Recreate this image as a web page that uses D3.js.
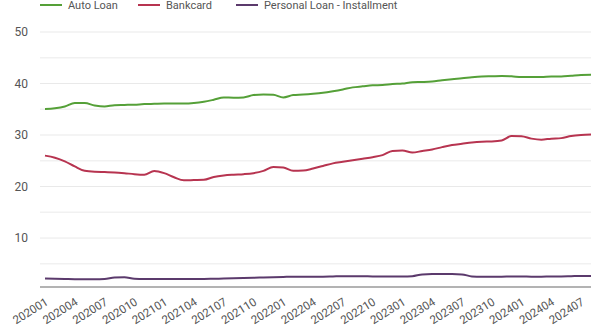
<!DOCTYPE html>
<html>
<head>
<meta charset="utf-8">
<script src="https://cdn.jsdelivr.net/npm/d3@7"></script>
<style>
  html, body { margin: 0; padding: 0; background: #fff; }
  svg { display: block; font-family: Roboto, "Liberation Sans", Arial, sans-serif; }
</style>
</head>
<body>
<svg id="chart" width="591" height="331"></svg>
<script>
// Months 202001 .. 202408
const months = [];
for (let y = 2020; y <= 2024; y++) {
  for (let m = 1; m <= 12; m++) {
    if (y === 2024 && m > 8) break;
    months.push(`${y}${String(m).padStart(2, "0")}`);
  }
}

const seriesNames = ["Auto Loan", "Bankcard", "Personal Loan - Installment"];

const autoLoan = [
  35.05, 35.2, 35.55, 36.2, 36.2, 35.75, 35.55, 35.8, 35.85, 35.9, 36.0, 36.05,
  36.1, 36.1, 36.1, 36.2, 36.45, 36.85, 37.3, 37.25, 37.3, 37.75, 37.85, 37.8,
  37.3, 37.75, 37.85, 38.0, 38.2, 38.5, 38.85, 39.25, 39.45, 39.65, 39.7, 39.9,
  40.0, 40.25, 40.3, 40.4, 40.65, 40.85, 41.0, 41.2, 41.35, 41.4, 41.45, 41.4,
  41.25, 41.25, 41.25, 41.35, 41.35, 41.5, 41.65, 41.7
];

const bankcard = [
  26.0, 25.6, 24.9, 23.9, 23.05, 22.85, 22.8, 22.75, 22.6, 22.4, 22.3, 23.0,
  22.6, 21.8, 21.2, 21.25, 21.3, 21.85, 22.15, 22.3, 22.4, 22.6, 23.05, 23.8,
  23.7, 23.05, 23.1, 23.5, 24.0, 24.5, 24.8, 25.1, 25.4, 25.7, 26.1, 26.9,
  27.0, 26.6, 26.9, 27.2, 27.65, 28.05, 28.3, 28.55, 28.7, 28.75, 28.95, 29.8,
  29.75, 29.3, 29.1, 29.3, 29.4, 29.8, 30.0, 30.1
];

const personalLoan = [
  2.15, 2.1, 2.05, 2.0, 2.0, 2.0, 2.05, 2.35, 2.4, 2.1, 2.05, 2.05,
  2.05, 2.05, 2.05, 2.05, 2.05, 2.1, 2.15, 2.2, 2.25, 2.3, 2.35, 2.4,
  2.45, 2.5, 2.5, 2.5, 2.5, 2.55, 2.6, 2.6, 2.6, 2.55, 2.55, 2.55,
  2.55, 2.6, 2.95, 3.0, 3.0, 3.0, 2.95, 2.55, 2.5, 2.5, 2.5, 2.55,
  2.55, 2.5, 2.5, 2.55, 2.55, 2.6, 2.65, 2.65
];

const yTicks = [10, 20, 30, 40, 50];
const yMinorTicks = [5, 15, 25, 35, 45];
const colors = ["#55a038", "#b73450", "#5b3a6c"];

const svg = d3.select("#chart");
const plotLeft = 40, plotRight = 591, plotTop = 32, plotBottom = 287;

const x = d3.scalePoint().domain(months).range([45, 591]);
const y = d3.scaleLinear().domain([0.5, 50]).range([plotBottom, plotTop]);

// Gridlines
svg.append("g").selectAll("line.minor").data(yMinorTicks).join("line")
  .attr("x1", plotLeft).attr("x2", plotRight)
  .attr("y1", d => y(d)).attr("y2", d => y(d))
  .attr("stroke", "#f1f1f1").attr("stroke-width", 1.5);
svg.append("g").selectAll("line.major").data(yTicks).join("line")
  .attr("x1", plotLeft).attr("x2", plotRight)
  .attr("y1", d => y(d)).attr("y2", d => y(d))
  .attr("stroke", "#e9e9e9").attr("stroke-width", 1);

// Y axis labels
svg.append("g").selectAll("text").data(yTicks).join("text")
  .attr("x", 28).attr("y", d => y(d)).attr("dy", "0.35em")
  .attr("text-anchor", "end").attr("font-size", 12).attr("fill", "#555")
  .text(d => d);

// X axis baseline and labels
svg.append("line")
  .attr("x1", plotLeft).attr("x2", plotRight)
  .attr("y1", plotBottom).attr("y2", plotBottom)
  .attr("stroke", "#9a9a9a").attr("stroke-width", 1.5);

const xLabels = months.filter((d, i) => i % 3 === 0);
svg.append("g").selectAll("text").data(xLabels).join("text")
  .attr("transform", d => `translate(${x(d) + 4},${plotBottom + 17}) rotate(-32)`)
  .attr("text-anchor", "end").attr("font-size", 11.5).attr("fill", "#555")
  .text(d => d);

// Lines
const allSeries = [autoLoan, bankcard, personalLoan];
const line = d3.line()
  .x((d, i) => x(months[i]))
  .y(d => y(d))
  .curve(d3.curveMonotoneX);

svg.append("g").selectAll("path").data(allSeries).join("path")
  .attr("d", d => line(d))
  .attr("fill", "none")
  .attr("stroke", (d, i) => colors[i])
  .attr("stroke-width", 2)
  .attr("stroke-linejoin", "round");

// Legend
const legendX = [40, 138, 236];
const legend = svg.append("g").selectAll("g").data(seriesNames).join("g")
  .attr("transform", (d, i) => `translate(${legendX[i]},5)`);
legend.append("line")
  .attr("x1", 0).attr("x2", 22).attr("y1", 0).attr("y2", 0)
  .attr("stroke", (d, i) => colors[i]).attr("stroke-width", 2);
legend.append("text")
  .attr("x", 28).attr("y", 0).attr("dy", "0.32em")
  .attr("font-size", 11).attr("fill", "#555")
  .text(d => d);
</script>
</body>
</html>
